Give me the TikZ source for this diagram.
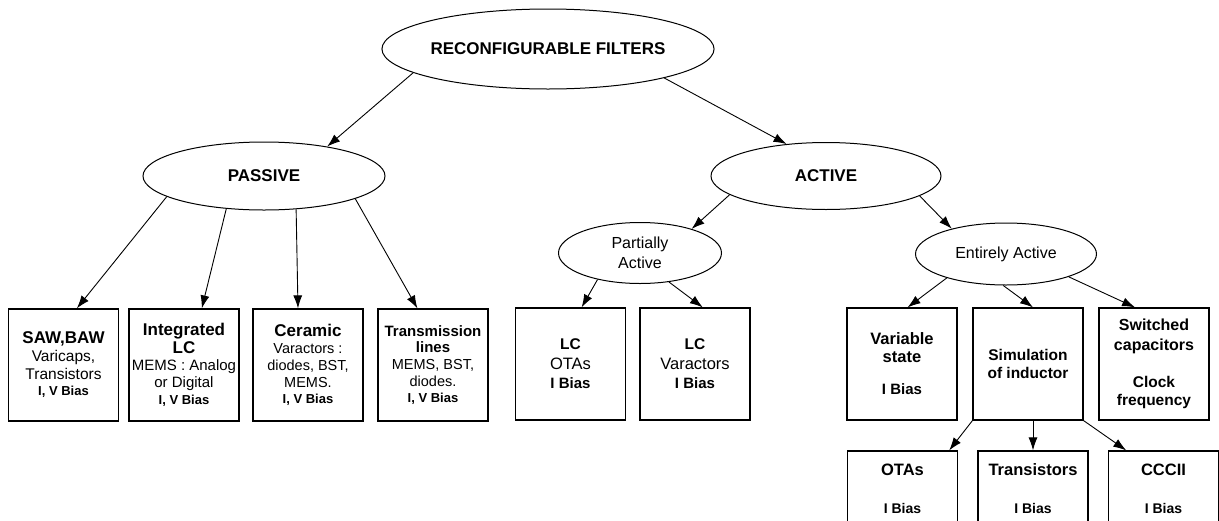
\documentclass[tikz,border=0pt]{standalone}
\usepackage{fontspec}
\setmainfont{Liberation Sans}
\usetikzlibrary{shapes.geometric,arrows.meta,calc}
\newcommand\fs[1]{\fontsize{#1}{18}\selectfont}
\begin{document}
\begin{tikzpicture}[x=1pt,y=-1pt,
  ell/.style={draw, ellipse, line width=1pt, inner sep=0pt, align=center},
  box/.style={draw, line width=1.2pt, minimum width=110pt, minimum height=112pt, inner sep=0pt, align=center, font=\fontsize{15}{18}\selectfont},
  lowbox/.style={box, minimum height=76pt},
  arr/.style={-{Latex[length=13pt,width=9pt]}, line width=0.9pt}]
\useasboundingbox (0,0) rectangle (1219,520);
\clip (0,0) rectangle (1219,520);
% ellipses
\node[ell, minimum width=282pt, minimum height=80pt, font=\fs{17}\bfseries] (top) at (548,49) {RECONFIGURABLE FILTERS};
\node[ell, minimum width=242pt, minimum height=68pt, font=\fs{17}\bfseries] (pas) at (264,176) {PASSIVE};
\node[ell, minimum width=230pt, minimum height=67pt, font=\fs{17}\bfseries] (act) at (826,176) {ACTIVE};
\node[ell, minimum width=163pt, minimum height=61pt, font=\fontsize{16}{20.5}\selectfont] (par) at (640,253) {Partially\\Active};
\node[ell, minimum width=181pt, minimum height=62pt, font=\fs{16}] (ent) at (1006,254) {Entirely Active};
% boxes
\node[box] (saw) at (63.5,365) {{\fs{17}\bfseries SAW,BAW}\\{\fs{15.5}Varicaps,}\\{\fs{15.5}Transistors}\\[-2pt]{\fs{13}\bfseries I, V Bias}};
\node[box] (int) at (184,365) {{\fs{17}\bfseries Integrated}\\{\fs{17}\bfseries LC}\\[-1pt]{\fs{15}MEMS : Analog}\\[-1pt]{\fs{15}or Digital}\\[-1pt]{\fs{13}\bfseries I, V Bias}};
\node[box] (cer) at (308,365) {{\fs{17}\bfseries Ceramic}\\[-1pt]{\fs{14.5}Varactors :}\\[-1pt]{\fs{14.5}diodes, BST,}\\[-1pt]{\fs{14.5}MEMS.}\\[-2pt]{\fs{13}\bfseries I, V Bias}};
\node[box] (tra) at (433,365) {{\fs{15}\bfseries Transmission}\\[-2pt]{\fs{15}\bfseries lines}\\[-1pt]{\fs{14.5}MEMS, BST,}\\[-1pt]{\fs{14.5}diodes.}\\[-2pt]{\fs{13}\bfseries I, V Bias}};
\node[box] (lco) at (570.5,364) {{\fs{15.5}\bfseries LC}\\[1.5pt]{\fs{16.5}OTAs}\\[1.5pt]{\fs{15}\bfseries I Bias}};
\node[box] (lcv) at (695,364) {{\fs{15.5}\bfseries LC}\\[1.5pt]{\fs{16.5}Varactors}\\[1.5pt]{\fs{15}\bfseries I Bias}};
\node[box] (var) at (902,364) {{\fs{16.5}\bfseries Variable}\\{\fs{16.5}\bfseries state}\\[14pt]{\fs{15}\bfseries I Bias}};
\node[box] (sim) at (1028,364) {{\fs{15.5}\bfseries Simulation}\\{\fs{15.5}\bfseries of inductor}};
\node[box] (swi) at (1154,364) {{\fs{16}\bfseries Switched}\\[2pt]{\fs{16}\bfseries capacitors}\\[19pt]{\fs{15.5}\bfseries Clock}\\{\fs{15.5}\bfseries frequency}};
\node[lowbox] (ota) at (902.5,489) {{\fs{16.5}\bfseries OTAs}\\[20pt]{\fs{14}\bfseries I Bias}};
\node[lowbox] (trs) at (1033,489) {{\fs{16.5}\bfseries Transistors}\\[20pt]{\fs{14}\bfseries I Bias}};
\node[lowbox] (ccc) at (1163.5,489) {{\fs{16.5}\bfseries CCCII}\\[20pt]{\fs{14}\bfseries I Bias}};
% connectors
\draw[arr] (top.190.4) -- (pas.25);
\draw[arr] (top.346.7) -- (act.141);
\draw[arr] (pas.192.3) -- ($(saw.north west)!0.62!(saw.north east)$);
\draw[arr] (pas.221.6) -- ($(int.north west)!0.66!(int.north east)$);
\draw[arr] (pas.314.1) -- ($(cer.north west)!0.41!(cer.north east)$);
\draw[arr] (pas.346.1) -- ($(tra.north west)!0.36!(tra.north east)$);
\draw[arr] (act.191.1) -- (par.25.7);
\draw[arr] (act.348.5) -- (ent.155);
\draw[arr] (par.212.7) -- ($(lco.north west)!0.60!(lco.north east)$);
\draw[arr] (par.315) -- ($(lcv.north west)!0.57!(lcv.north east)$);
\draw[arr] (ent.202.1) -- ($(var.north west)!0.55!(var.north east)$);
\draw[arr] (ent.265) -- ($(sim.north west)!0.545!(sim.north east)$);
\draw[arr] (ent.340.5) -- ($(swi.north west)!0.33!(swi.north east)$);
\draw[arr] (sim.south west) -- ($(ota.north west)!0.92!(ota.north east)$);
\draw[arr] (trs.north |- sim.south) -- (trs.north);
\draw[arr] (sim.south east) -- ($(ccc.north west)!0.165!(ccc.north east)$);
\end{tikzpicture}
\end{document}
